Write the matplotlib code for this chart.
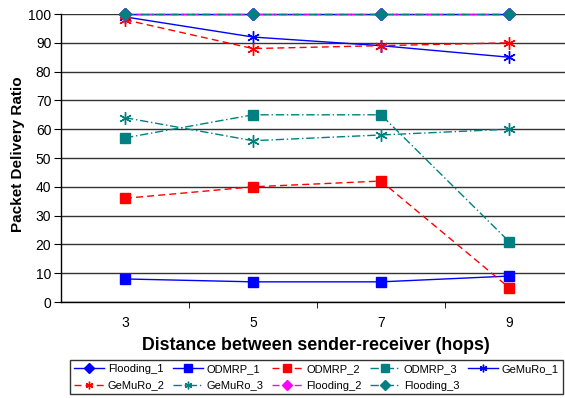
import matplotlib.pyplot as plt

plt.rcParams['font.family'] = ['Liberation Sans', 'DejaVu Sans']

hops = ['3', '5', '7', '9']
flooding_1 = [100, 100, 100, 100]
odmrp_1 = [8, 7, 7, 9]
odmrp_2 = [36, 40, 42, 5]
odmrp_3 = [57, 65, 65, 21]
gemuro_1 = [99, 92, 89, 85]
gemuro_2 = [98, 88, 89, 90]
gemuro_3 = [64, 56, 58, 60]
flooding_2 = [100, 100, 100, 100]
flooding_3 = [100, 100, 100, 100]

blue = '#0000ff'
red = '#ff0000'
teal = '#008080'
magenta = '#ff00ff'
star = (6, 2, 0)

fig = plt.figure(figsize=(5.65, 3.98), dpi=100)
ax = fig.add_axes([61 / 565, 96 / 398, 512 / 565, 288 / 398])

x = [1, 2, 3, 4]
series = [
    ('Flooding_1', flooding_1, blue, '-', 'D', 6),
    ('ODMRP_1', odmrp_1, blue, '-', 's', 7),
    ('ODMRP_2', odmrp_2, red, (0, (5, 3)), 's', 7),
    ('ODMRP_3', odmrp_3, teal, (0, (6, 2, 1, 2)), 's', 7),
    ('GeMuRo_1', gemuro_1, blue, '-', star, 9),
    ('GeMuRo_2', gemuro_2, red, (0, (5, 3)), star, 9),
    ('GeMuRo_3', gemuro_3, teal, (0, (6, 2, 1, 2)), star, 9),
    ('Flooding_2', flooding_2, magenta, (0, (5, 3)), 'D', 6),
    ('Flooding_3', flooding_3, teal, (0, (6, 2, 1, 2)), 'D', 6),
]
handles = {}
for name, vals, col, ls, mk, ms in series:
    h, = ax.plot(x, vals, color=col, linestyle=ls, linewidth=1, marker=mk,
                 markersize=ms, markerfacecolor=col, markeredgecolor=col,
                 markeredgewidth=1, label=name, clip_on=False, zorder=3)
    handles[name] = h

ax.set_xlim(0.5, 4.5)
ax.set_ylim(0, 100)
ax.set_yticks(range(0, 101, 10))
ax.set_xticks(x)
ax.set_xticklabels(hops)
ax.set_xticks([1.5, 2.5, 3.5, 4.5], minor=True)
ax.tick_params(axis='x', which='major', length=0, pad=10, labelsize=10)
ax.tick_params(axis='x', which='minor', length=4, direction='out')
ax.tick_params(axis='y', length=5, direction='out', labelsize=10, pad=2)
ax.grid(axis='y', color='#333333', linewidth=1)
ax.set_axisbelow(True)
for s in ['top', 'right']:
    ax.spines[s].set_visible(False)
ax.spines['left'].set_linewidth(1)
ax.spines['bottom'].set_linewidth(1)

fig.text(18 / 565, 1 - 154 / 398, 'Packet Delivery Ratio', rotation=90,
         ha='center', va='center', fontsize=11, fontweight='bold')
fig.text(316 / 565, 1 - 345 / 398, 'Distance between sender-receiver (hops)',
         ha='center', va='center', fontsize=12.8, fontweight='bold')

order = ['Flooding_1', 'GeMuRo_2', 'ODMRP_1', 'GeMuRo_3', 'ODMRP_2',
         'Flooding_2', 'ODMRP_3', 'Flooding_3', 'GeMuRo_1']
leg = fig.legend([handles[n] for n in order], order, ncol=5,
                 loc='upper left', bbox_to_anchor=(70 / 565, 1 - 360 / 398),
                 fontsize=8.0, frameon=True, fancybox=False, edgecolor='black',
                 handlelength=2.7, handletextpad=0.35, columnspacing=0.75,
                 labelspacing=0.6, borderpad=0.35, borderaxespad=0)
leg.get_frame().set_linewidth(1)
for h in leg.legend_handles:
    h.set_markersize(5.5)

fig.savefig('out.png', dpi=100)
